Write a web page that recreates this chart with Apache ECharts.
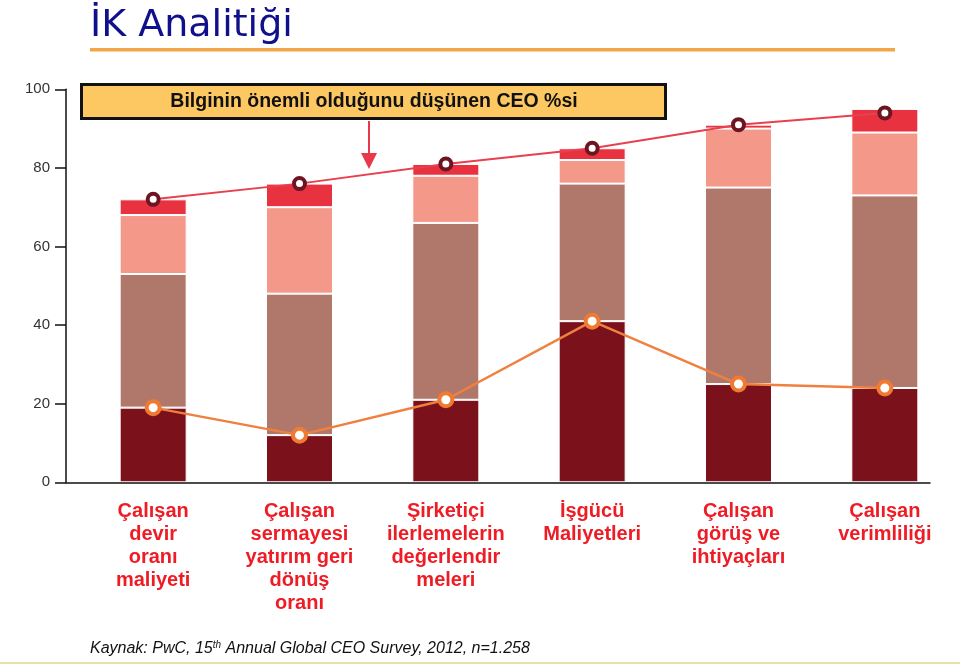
<!DOCTYPE html>
<html><head><meta charset="utf-8">
<script src="https://cdn.jsdelivr.net/npm/echarts@6/dist/echarts.min.js"></script>
<style>html,body{margin:0;padding:0;background:#fff}#c{width:960px;height:666px}</style>
</head><body><div id="c"></div>
<script>
// Categories (x axis)
const categories = [
  'Çalışan\ndevir\noranı\nmaliyeti',
  'Çalışan\nsermayesi\nyatırım geri\ndönüş\noranı',
  'Şirketiçi\nilerlemelerin\ndeğerlendir\nmeleri',
  'İşgücü\nMaliyetleri',
  'Çalışan\ngörüş ve\nihtiyaçları',
  'Çalışan\nverimliliği'
];
// Stacked bar segments (bottom to top), in %
const segDark  = [19, 12, 21, 41, 25, 24];
const segBrown = [34, 36, 45, 35, 50, 49];
const segPink  = [15, 22, 12,  6, 15, 16];
const segRed   = [ 4,  6,  3,  3,  1,  6];
// Line: "Bilginin önemli olduğunu düşünen CEO %si"
const importantLine = [72, 76, 81, 85, 91, 94];
// Lower (orange) line
const lowerLine = [19, 12, 21, 41, 25, 24];
// Y axis ticks
const yMin = 0, yMax = 100, yStep = 20;

const boxText = 'Bilginin önemli olduğunu düşünen CEO %si';
const titleText = 'İK Analitiği';

const chart = echarts.init(document.getElementById('c'), null, {renderer: 'canvas'});

const TOP = 89.3, BOTTOM = 183.7;
const barStyle = c => ({color: c, borderColor: '#ffffff', borderWidth: 1});

function barSeries(name, data, color) {
  return {
    name, type: 'bar', stack: 'total', xAxisIndex: 0, yAxisIndex: 0,
    data, barWidth: 67, itemStyle: barStyle(color), z: 2,
    emphasis: {disabled: true}
  };
}

chart.setOption({
  animation: false,
  backgroundColor: '#ffffff',
  grid: [
    {left: 80, right: 2, top: TOP, bottom: BOTTOM},
    {left: 66, width: 864, top: TOP, bottom: BOTTOM}
  ],
  xAxis: [
    {
      type: 'category', gridIndex: 0, data: categories,
      axisLine: {show: false}, axisTick: {show: false},
      axisLabel: {
        interval: 0, color: '#ee1c25', fontWeight: 'bold', fontSize: 20,
        lineHeight: 23, fontFamily: '"Liberation Sans", Arial, sans-serif', margin: 18
      }
    },
    {
      type: 'value', gridIndex: 1, min: 0, max: 1, z: 5,
      axisLine: {show: true, lineStyle: {color: '#111', width: 1.5}},
      axisTick: {show: false}, axisLabel: {show: false}, splitLine: {show: false}
    }
  ],
  yAxis: [
    {type: 'value', gridIndex: 0, min: yMin, max: yMax, interval: yStep, show: false},
    {
      type: 'value', gridIndex: 1, min: yMin, max: yMax, interval: yStep, z: 5,
      axisLine: {show: true, lineStyle: {color: '#111', width: 1.5}},
      axisTick: {show: true, length: 11, lineStyle: {color: '#111', width: 1.5}},
      axisLabel: {color: '#333', fontSize: 15, margin: 16, fontFamily: '"Liberation Sans", Arial, sans-serif'},
      splitLine: {show: false}
    }
  ],
  series: [
    barSeries('Seviye 1', segDark, '#7b111b'),
    barSeries('Seviye 2', segBrown, '#b0786a'),
    barSeries('Seviye 3', segPink, '#f4998a'),
    barSeries('Seviye 4', segRed, '#e8323f'),
    {
      name: boxText, type: 'line', xAxisIndex: 0, yAxisIndex: 0, data: importantLine, z: 6,
      symbol: 'circle', symbolSize: 11,
      itemStyle: {color: '#ffffff', borderColor: '#6d1522', borderWidth: 4},
      lineStyle: {color: '#e8404e', width: 2},
      emphasis: {disabled: true}
    },
    {
      name: 'Alt çizgi', type: 'line', xAxisIndex: 0, yAxisIndex: 0, data: lowerLine, z: 6,
      symbol: 'circle', symbolSize: 13,
      itemStyle: {color: '#ffffff', borderColor: '#f07a32', borderWidth: 4},
      lineStyle: {color: '#f08040', width: 2.5},
      emphasis: {disabled: true}
    }
  ],
  graphic: [
    {type: 'text', x: 90, y: 26, style: {text: titleText, font: 'normal 38px "DejaVu Sans", Verdana, sans-serif', fill: '#10108c', verticalAlign: 'middle'}},
    {type: 'rect', shape: {x: 90, y: 48, width: 805, height: 3.5}, style: {fill: '#f4a646'}},
    {type: 'rect', shape: {x: 81.5, y: 84.5, width: 584, height: 34}, style: {fill: '#fdc862', stroke: '#111', lineWidth: 3}, z: 10},
    {type: 'text', x: 374, y: 102, z: 11, style: {text: boxText, font: 'bold 19.5px "Liberation Sans", Arial, sans-serif', fill: '#111', align: 'center', verticalAlign: 'middle'}},
    {type: 'line', shape: {x1: 369, y1: 121, x2: 369, y2: 156}, style: {stroke: '#e8384a', lineWidth: 2}, z: 10},
    {type: 'polygon', shape: {points: [[361, 153], [377, 153], [369, 169]]}, style: {fill: '#e8384a'}, z: 10},
    {type: 'text', x: 90, y: 649, style: {
      text: '{a|Kaynak: PwC, 15}{s|th}{a| Annual Global CEO Survey, 2012, n=1.258}',
      verticalAlign: 'middle',
      rich: {
        a: {font: 'italic 16px "Liberation Sans", Arial, sans-serif', fill: '#111', lineHeight: 18},
        s: {font: 'italic 10px "Liberation Sans", Arial, sans-serif', fill: '#111', padding: [0, 0, 8, 0]}
      }
    }},
    {type: 'rect', shape: {x: 0, y: 662, width: 960, height: 2}, style: {fill: '#e8e0a8'}}
  ]
});
</script>
</body></html>
